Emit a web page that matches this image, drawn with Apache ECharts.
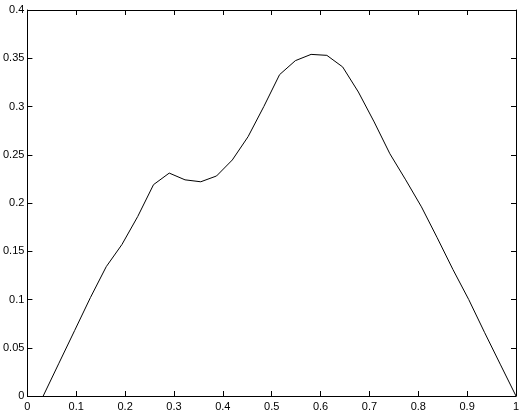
<!DOCTYPE html>
<html>
<head>
<meta charset="utf-8">
<script src="https://cdn.jsdelivr.net/npm/echarts@6/dist/echarts.min.js"></script>
<style>
html, body { margin: 0; padding: 0; background: #fff; }
#divChart { width: 523px; height: 413px; }
</style>
</head>
<body>
<div id="divChart"></div>
<script>
// sample positions along x (about every 1/31)
var xValues = [0.0323, 0.0645, 0.0968, 0.1290, 0.1613, 0.1935, 0.2258, 0.2581,
    0.2903, 0.3226, 0.3548, 0.3871, 0.4194, 0.4516, 0.4839, 0.5161, 0.5484,
    0.5806, 0.6129, 0.6452, 0.6774, 0.7097, 0.7419, 0.7742, 0.8065, 0.8387,
    0.8710, 0.9032, 0.9355, 0.9677, 1.0];
var yValues = [0, 0.034, 0.068, 0.102, 0.134, 0.157, 0.186, 0.219,
    0.231, 0.224, 0.222, 0.228, 0.2446, 0.2687, 0.300, 0.333, 0.3475,
    0.354, 0.353, 0.341, 0.315, 0.284, 0.251, 0.224, 0.196, 0.164,
    0.131, 0.100, 0.066, 0.033, 0];
var xTicks = { min: 0, max: 1, interval: 0.1 };
var yTicks = { min: 0, max: 0.4, interval: 0.05 };

var myChart = echarts.init(document.getElementById('divChart'));

function buildData() {
    var result = [];
    for (var i = 0; i < xValues.length; i++) {
        result.push([xValues[i], yValues[i]]);
    }
    return result;
}

// onZero off, otherwise the mirrored axes snap onto the main ones
var axisLine = { show: true, onZero: false, lineStyle: { color: '#000', width: 1 } };
var tick = { show: true, inside: true, length: 5, lineStyle: { color: '#000', width: 1 } };
var labelFont = { color: '#000', fontSize: 11, fontFamily: 'Liberation Sans, Arial, sans-serif' };

var option = {
    animation: false,
    grid: { left: 25, right: 7, top: 10, bottom: 17 },
    xAxis: [
        {
            type: 'value', min: xTicks.min, max: xTicks.max, interval: xTicks.interval,
            position: 'bottom',
            axisLine: axisLine, axisTick: tick, splitLine: { show: false },
            axisLabel: Object.assign({ margin: 5 }, labelFont)
        },
        {
            type: 'value', min: xTicks.min, max: xTicks.max, interval: xTicks.interval,
            position: 'top',
            axisLine: axisLine, axisTick: tick, splitLine: { show: false },
            axisLabel: { show: false }
        }
    ],
    yAxis: [
        {
            type: 'value', min: yTicks.min, max: yTicks.max, interval: yTicks.interval,
            position: 'left',
            axisLine: axisLine, axisTick: tick, splitLine: { show: false },
            axisLabel: Object.assign({ margin: 3 }, labelFont)
        },
        {
            type: 'value', min: yTicks.min, max: yTicks.max, interval: yTicks.interval,
            position: 'right',
            axisLine: axisLine, axisTick: tick, splitLine: { show: false },
            axisLabel: { show: false }
        }
    ],
    series: [
        {
            type: 'line',
            data: buildData(),
            showSymbol: false,
            symbol: 'none',
            lineStyle: { color: '#000', width: 1 }
        }
    ]
};
myChart.setOption(option);
</script>
</body>
</html>
